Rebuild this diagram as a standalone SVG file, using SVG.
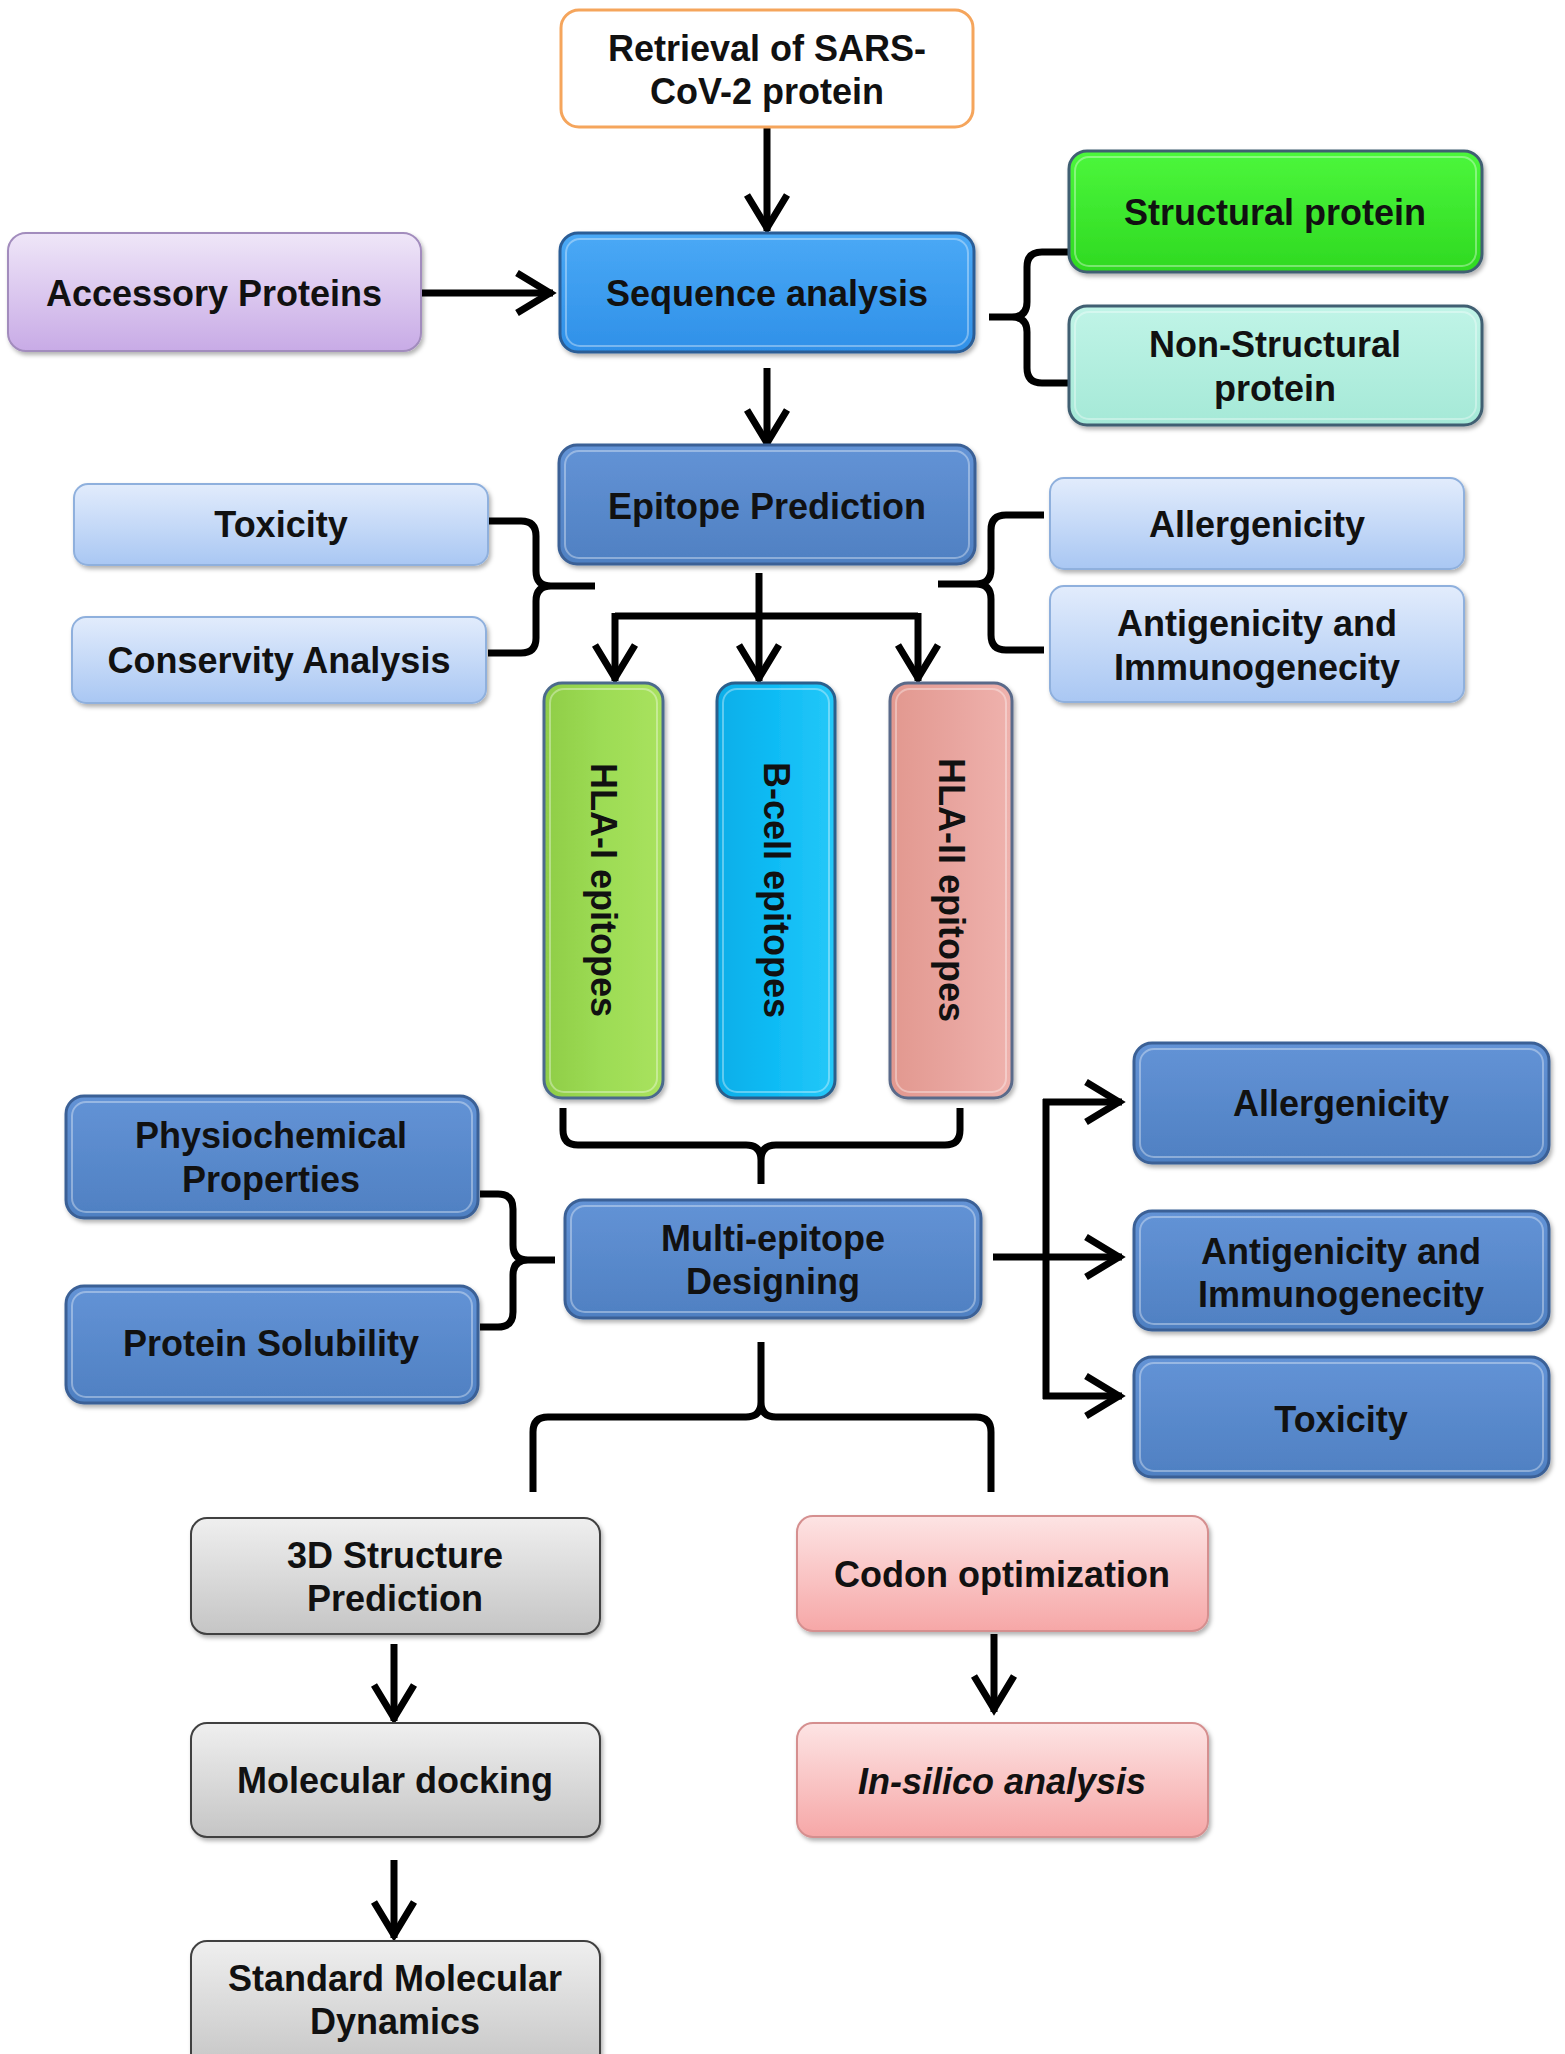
<svg xmlns="http://www.w3.org/2000/svg" width="1565" height="2054" viewBox="0 0 1565 2054">
<style>
.t{font-family:"Liberation Sans",Arial,sans-serif;font-weight:bold;font-size:36px;fill:#111;text-anchor:middle;dominant-baseline:central}
.it{font-style:italic}
.c{fill:none;stroke:#000;stroke-width:7}
.a{fill:none;stroke:#000;stroke-width:7;marker-end:url(#ah)}
.box{filter:url(#sh)}
.hl{fill:none;stroke:#fff;stroke-opacity:0.35;stroke-width:2}
</style>
<defs>
<filter id="sh" x="-10%" y="-10%" width="120%" height="130%"><feDropShadow dx="2" dy="3" stdDeviation="2" flood-color="#000" flood-opacity="0.3"/></filter>
<marker id="ah" markerUnits="userSpaceOnUse" markerWidth="60" markerHeight="60" viewBox="-45 -30 60 60" refX="3" refY="0" orient="auto"><path d="M-33,-20 L0,0 L-33,20" fill="none" stroke="#000" stroke-width="7"/></marker>
<linearGradient id="gPur" x1="0" y1="0" x2="0" y2="1"><stop offset="0" stop-color="#efe6f8"/><stop offset="1" stop-color="#c8abe6"/></linearGradient>
<linearGradient id="gSeq" x1="0" y1="0" x2="0" y2="1"><stop offset="0" stop-color="#4aa9f6"/><stop offset="1" stop-color="#2f90e8"/></linearGradient>
<linearGradient id="gGrn" x1="0" y1="0" x2="0" y2="1"><stop offset="0" stop-color="#4cf73c"/><stop offset="1" stop-color="#2fd921"/></linearGradient>
<linearGradient id="gMint" x1="0" y1="0" x2="0" y2="1"><stop offset="0" stop-color="#c0f4e7"/><stop offset="1" stop-color="#a5e9d7"/></linearGradient>
<linearGradient id="gSteel" x1="0" y1="0" x2="0" y2="1"><stop offset="0" stop-color="#6393d6"/><stop offset="1" stop-color="#4f80c2"/></linearGradient>
<linearGradient id="gLt" x1="0" y1="0" x2="0" y2="1"><stop offset="0" stop-color="#e2ecfc"/><stop offset="1" stop-color="#a9c7f3"/></linearGradient>
<linearGradient id="gH1" x1="0" y1="0" x2="1" y2="0"><stop offset="0" stop-color="#8fcd47"/><stop offset="0.5" stop-color="#9ddc55"/><stop offset="1" stop-color="#a9e25e"/></linearGradient>
<linearGradient id="gB" x1="0" y1="0" x2="1" y2="0"><stop offset="0" stop-color="#07aee8"/><stop offset="0.5" stop-color="#10bcf5"/><stop offset="1" stop-color="#25c8f8"/></linearGradient>
<linearGradient id="gH2" x1="0" y1="0" x2="1" y2="0"><stop offset="0" stop-color="#e2988f"/><stop offset="0.5" stop-color="#e8a49e"/><stop offset="1" stop-color="#efb2ad"/></linearGradient>
<linearGradient id="gGry" x1="0" y1="0" x2="0" y2="1"><stop offset="0" stop-color="#efefef"/><stop offset="1" stop-color="#c5c5c5"/></linearGradient>
<linearGradient id="gPk" x1="0" y1="0" x2="0" y2="1"><stop offset="0" stop-color="#fde4e4"/><stop offset="1" stop-color="#f6a7a7"/></linearGradient>
</defs>
<rect width="1565" height="2054" fill="#fff"/>

<g id="connectors">
<line class="a" x1="767" y1="128" x2="767" y2="231"/>
<line class="a" x1="421" y1="293" x2="553" y2="293"/>
<line class="a" x1="767" y1="368" x2="767" y2="446"/>
<line class="a" x1="759" y1="573" x2="759" y2="681"/>
<path class="c" d="M615,616 L918,616"/>
<line class="a" x1="615" y1="613" x2="615" y2="681"/>
<line class="a" x1="918" y1="613" x2="918" y2="681"/>
<line class="a" x1="394" y1="1644" x2="394" y2="1721"/>
<line class="a" x1="394" y1="1860" x2="394" y2="1938"/>
<line class="a" x1="994" y1="1634" x2="994" y2="1712"/>
<line class="a" x1="993" y1="1257" x2="1122" y2="1257"/>
<path class="c" d="M1046,1099 L1046,1399"/>
<line class="a" x1="1043" y1="1102" x2="1122" y2="1102"/>
<line class="a" x1="1043" y1="1396" x2="1122" y2="1396"/>
<path class="c" d="M1069,252 L1042,252 Q1027,252 1027,267 L1027,302 Q1027,317 1012,317 L989,317 M1012,317 Q1027,317 1027,332 L1027,368 Q1027,383 1042,383 L1069,383"/>
<path class="c" d="M488,521 L521,521 Q536,521 536,536 L536,571 Q536,586 551,586 L595,586 M551,586 Q536,586 536,601 L536,638 Q536,653 521,653 L488,653"/>
<path class="c" d="M1044,515 L1006,515 Q991,515 991,530 L991,569 Q991,584 976,584 L938,584 M976,584 Q991,584 991,599 L991,635 Q991,650 1006,650 L1044,650"/>
<path class="c" d="M563,1108 L563,1130 Q563,1145 578,1145 L746,1145 Q761,1145 761,1160 L761,1184 M761,1160 Q761,1145 776,1145 L945,1145 Q960,1145 960,1130 L960,1108"/>
<path class="c" d="M480,1194 L498,1194 Q513,1194 513,1209 L513,1245 Q513,1260 528,1260 L555,1260 M528,1260 Q513,1260 513,1275 L513,1312 Q513,1327 498,1327 L480,1327"/>
<path class="c" d="M761,1342 L761,1402 Q761,1417 746,1417 L548,1417 Q533,1417 533,1432 L533,1492 M761,1402 Q761,1417 776,1417 L976,1417 Q991,1417 991,1432 L991,1492"/>
</g>

<g id="retrieval"><rect x="561" y="10" width="412" height="117" rx="18" fill="#fff" stroke="#f5a55c" stroke-width="3"/>
<text class="t" x="767" y="48">Retrieval of SARS-</text><text class="t" x="767" y="91">CoV-2 protein</text></g>

<g id="accessory"><rect class="box" x="8" y="233" width="413" height="118" rx="18" fill="url(#gPur)" stroke="#a28cbd" stroke-width="2"/>
<text class="t" x="214" y="293">Accessory Proteins</text></g>

<g id="sequence"><rect class="box" x="560" y="233" width="414" height="119" rx="18" fill="url(#gSeq)" stroke="#2b5d96" stroke-width="3"/>
<rect class="hl" x="566" y="239" width="402" height="107" rx="14"/>
<text class="t" x="767" y="293">Sequence analysis</text></g>

<g id="structural"><rect class="box" x="1069" y="151" width="413" height="121" rx="18" fill="url(#gGrn)" stroke="#3f5f72" stroke-width="3"/>
<rect class="hl" x="1075" y="157" width="401" height="109" rx="14"/>
<text class="t" x="1275" y="212">Structural protein</text></g>

<g id="nonstructural"><rect class="box" x="1069" y="306" width="413" height="119" rx="18" fill="url(#gMint)" stroke="#3f5f72" stroke-width="3"/>
<rect class="hl" x="1075" y="312" width="401" height="107" rx="14"/>
<text class="t" x="1275" y="344">Non-Structural</text><text class="t" x="1275" y="388">protein</text></g>

<g id="epitope"><rect class="box" x="559" y="445" width="416" height="119" rx="18" fill="url(#gSteel)" stroke="#3a6096" stroke-width="3"/>
<rect class="hl" x="565" y="451" width="404" height="107" rx="14"/>
<text class="t" x="767" y="506">Epitope Prediction</text></g>

<g id="toxicity1"><rect class="box" x="74" y="484" width="414" height="81" rx="14" fill="url(#gLt)" stroke="#8fb0dd" stroke-width="2"/>
<text class="t" x="281" y="524">Toxicity</text></g>

<g id="conservity"><rect class="box" x="72" y="617" width="414" height="86" rx="14" fill="url(#gLt)" stroke="#8fb0dd" stroke-width="2"/>
<text class="t" x="279" y="660">Conservity Analysis</text></g>

<g id="allergenicity1"><rect class="box" x="1050" y="478" width="414" height="91" rx="14" fill="url(#gLt)" stroke="#8fb0dd" stroke-width="2"/>
<text class="t" x="1257" y="524">Allergenicity</text></g>

<g id="antigenicity1"><rect class="box" x="1050" y="586" width="414" height="116" rx="14" fill="url(#gLt)" stroke="#8fb0dd" stroke-width="2"/>
<text class="t" x="1257" y="623">Antigenicity and</text><text class="t" x="1257" y="667">Immunogenecity</text></g>

<g id="hla1"><rect class="box" x="544" y="683" width="119" height="415" rx="18" fill="url(#gH1)" stroke="#4c6a8c" stroke-width="3"/>
<rect class="hl" x="550" y="689" width="107" height="403" rx="14"/>
<text class="t" x="603" y="890" transform="rotate(90 603 890)">HLA-I epitopes</text></g>

<g id="bcell"><rect class="box" x="717" y="683" width="118" height="415" rx="18" fill="url(#gB)" stroke="#2c5f8c" stroke-width="3"/>
<rect class="hl" x="723" y="689" width="106" height="403" rx="14"/>
<text class="t" x="776" y="890" transform="rotate(90 776 890)">B-cell epitopes</text></g>

<g id="hla2"><rect class="box" x="890" y="683" width="122" height="415" rx="18" fill="url(#gH2)" stroke="#5a6a8a" stroke-width="3"/>
<rect class="hl" x="896" y="689" width="110" height="403" rx="14"/>
<text class="t" x="951" y="890" transform="rotate(90 951 890)">HLA-II epitopes</text></g>

<g id="physio"><rect class="box" x="66" y="1096" width="412" height="122" rx="18" fill="url(#gSteel)" stroke="#3a6096" stroke-width="3"/>
<rect class="hl" x="72" y="1102" width="400" height="110" rx="14"/>
<text class="t" x="271" y="1135">Physiochemical</text><text class="t" x="271" y="1179">Properties</text></g>

<g id="solubility"><rect class="box" x="66" y="1286" width="412" height="117" rx="18" fill="url(#gSteel)" stroke="#3a6096" stroke-width="3"/>
<rect class="hl" x="72" y="1292" width="400" height="105" rx="14"/>
<text class="t" x="271" y="1343">Protein Solubility</text></g>

<g id="multiepitope"><rect class="box" x="565" y="1200" width="416" height="118" rx="18" fill="url(#gSteel)" stroke="#3a6096" stroke-width="3"/>
<rect class="hl" x="571" y="1206" width="404" height="106" rx="14"/>
<text class="t" x="773" y="1238">Multi-epitope</text><text class="t" x="773" y="1281">Designing</text></g>

<g id="allergenicity2"><rect class="box" x="1134" y="1043" width="415" height="120" rx="18" fill="url(#gSteel)" stroke="#3a6096" stroke-width="3"/>
<rect class="hl" x="1140" y="1049" width="403" height="108" rx="14"/>
<text class="t" x="1341" y="1103">Allergenicity</text></g>

<g id="antigenicity2"><rect class="box" x="1134" y="1211" width="415" height="119" rx="18" fill="url(#gSteel)" stroke="#3a6096" stroke-width="3"/>
<rect class="hl" x="1140" y="1217" width="403" height="107" rx="14"/>
<text class="t" x="1341" y="1251">Antigenicity and</text><text class="t" x="1341" y="1294">Immunogenecity</text></g>

<g id="toxicity2"><rect class="box" x="1134" y="1357" width="415" height="120" rx="18" fill="url(#gSteel)" stroke="#3a6096" stroke-width="3"/>
<rect class="hl" x="1140" y="1363" width="403" height="108" rx="14"/>
<text class="t" x="1341" y="1419">Toxicity</text></g>

<g id="structure3d"><rect class="box" x="191" y="1518" width="409" height="116" rx="16" fill="url(#gGry)" stroke="#404040" stroke-width="2"/>
<text class="t" x="395" y="1555">3D Structure</text><text class="t" x="395" y="1598">Prediction</text></g>

<g id="docking"><rect class="box" x="191" y="1723" width="409" height="114" rx="16" fill="url(#gGry)" stroke="#404040" stroke-width="2"/>
<text class="t" x="395" y="1780">Molecular docking</text></g>

<g id="dynamics"><rect class="box" x="191" y="1941" width="409" height="130" rx="16" fill="url(#gGry)" stroke="#404040" stroke-width="2"/>
<text class="t" x="395" y="1978">Standard Molecular</text><text class="t" x="395" y="2021">Dynamics</text></g>

<g id="codon"><rect class="box" x="797" y="1516" width="411" height="115" rx="16" fill="url(#gPk)" stroke="#d58f8f" stroke-width="2"/>
<text class="t" x="1002" y="1574">Codon optimization</text></g>

<g id="insilico"><rect class="box" x="797" y="1723" width="411" height="114" rx="16" fill="url(#gPk)" stroke="#d58f8f" stroke-width="2"/>
<text class="t it" x="1002" y="1781">In-silico analysis</text></g>
</svg>
